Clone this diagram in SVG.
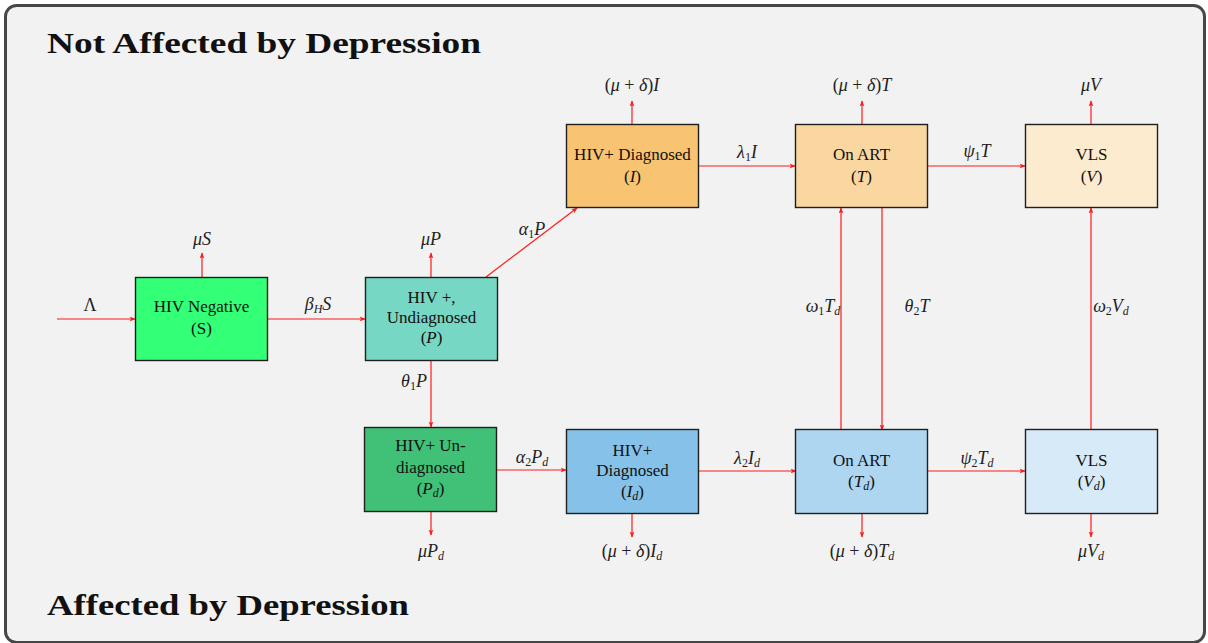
<svg xmlns="http://www.w3.org/2000/svg" width="1208" height="643" viewBox="0 0 1208 643">
  <defs>
    <marker id="head" viewBox="0 0 10 10" refX="9" refY="5" markerWidth="6" markerHeight="6" markerUnits="userSpaceOnUse" orient="auto">
      <path d="M0,1 L10,5 L0,9 L2.5,5 Z" fill="#ff1a1a"/>
    </marker>
    <style>
      .frame { fill: #f2f2f2; stroke: #474747; stroke-width: 3; }
      .box { stroke: #1f1f1f; stroke-width: 1.4; }
      .title { font-family: "Liberation Serif", "DejaVu Serif", serif; font-weight: bold; font-size: 29px; fill: #111; }
      .lbl { font-family: "Liberation Serif", "DejaVu Serif", serif; font-size: 17px; fill: #111; text-anchor: middle; }
      .math { font-family: "Liberation Serif", "DejaVu Serif", serif; font-size: 18px; fill: #222; text-anchor: middle; }
      .i { font-style: italic; }
      .sub { font-size: 12px; }
      .flow { stroke: #ff1a1a; stroke-width: 1.2; fill: none; marker-end: url(#head); }
    </style>
  </defs>

  <rect class="frame" x="5.5" y="5.5" width="1199" height="637" rx="11"/>

  <text class="title" x="47" y="53" textLength="434" lengthAdjust="spacingAndGlyphs">Not Affected by Depression</text>
  <text class="title" x="47" y="615" textLength="362" lengthAdjust="spacingAndGlyphs">Affected by Depression</text>

  <!-- transitions between compartments -->
  <g id="connectors">
    <line class="flow" x1="57" y1="319" x2="135" y2="319"/>
    <line class="flow" x1="268" y1="319" x2="365" y2="319"/>
    <line class="flow" x1="202" y1="277" x2="202" y2="253"/>
    <line class="flow" x1="431" y1="277" x2="431" y2="253"/>
    <line class="flow" x1="486" y1="277" x2="577" y2="208"/>
    <line class="flow" x1="431" y1="361" x2="431" y2="427"/>
    <line class="flow" x1="632" y1="124" x2="632" y2="101"/>
    <line class="flow" x1="698" y1="166" x2="795" y2="166"/>
    <line class="flow" x1="862" y1="124" x2="862" y2="101"/>
    <line class="flow" x1="928" y1="166" x2="1025" y2="166"/>
    <line class="flow" x1="1091" y1="124" x2="1091" y2="101"/>
    <line class="flow" x1="841" y1="430" x2="841" y2="208"/>
    <line class="flow" x1="882" y1="208" x2="882" y2="430"/>
    <line class="flow" x1="1091" y1="430" x2="1091" y2="208"/>
    <line class="flow" x1="497" y1="470" x2="566" y2="470"/>
    <line class="flow" x1="431" y1="511" x2="431" y2="535"/>
    <line class="flow" x1="699" y1="471" x2="796" y2="471"/>
    <line class="flow" x1="632" y1="513" x2="632" y2="537"/>
    <line class="flow" x1="928" y1="471" x2="1025" y2="471"/>
    <line class="flow" x1="862" y1="513" x2="862" y2="537"/>
    <line class="flow" x1="1091" y1="513" x2="1091" y2="537"/>
  </g>

  <!-- rate labels -->
  <g id="rates">
    <text class="math" x="90" y="311">Λ</text>
    <text class="math" x="318" y="310"><tspan class="i">β</tspan><tspan class="i sub" dy="3">H</tspan><tspan class="i" dy="-3">S</tspan></text>
    <text class="math" x="202" y="245"><tspan class="i">μS</tspan></text>
    <text class="math" x="431" y="245"><tspan class="i">μP</tspan></text>
    <text class="math" x="532" y="235"><tspan class="i">α</tspan><tspan class="sub" dy="3">1</tspan><tspan class="i" dy="-3">P</tspan></text>
    <text class="math" x="414" y="387"><tspan class="i">θ</tspan><tspan class="sub" dy="3">1</tspan><tspan class="i" dy="-3">P</tspan></text>
    <text class="math" x="632" y="91">(<tspan class="i">μ</tspan> + <tspan class="i">δ</tspan>)<tspan class="i">I</tspan></text>
    <text class="math" x="747" y="158"><tspan class="i">λ</tspan><tspan class="sub" dy="3">1</tspan><tspan class="i" dy="-3">I</tspan></text>
    <text class="math" x="862" y="91">(<tspan class="i">μ</tspan> + <tspan class="i">δ</tspan>)<tspan class="i">T</tspan></text>
    <text class="math" x="977" y="157"><tspan class="i">ψ</tspan><tspan class="sub" dy="3">1</tspan><tspan class="i" dy="-3">T</tspan></text>
    <text class="math" x="1091" y="91"><tspan class="i">μV</tspan></text>
    <text class="math" x="823" y="312"><tspan class="i">ω</tspan><tspan class="sub" dy="3">1</tspan><tspan class="i" dy="-3">T</tspan><tspan class="i sub" dy="3">d</tspan></text>
    <text class="math" x="917" y="312"><tspan class="i">θ</tspan><tspan class="sub" dy="3">2</tspan><tspan class="i" dy="-3">T</tspan></text>
    <text class="math" x="1111" y="312"><tspan class="i">ω</tspan><tspan class="sub" dy="3">2</tspan><tspan class="i" dy="-3">V</tspan><tspan class="i sub" dy="3">d</tspan></text>
    <text class="math" x="532" y="463"><tspan class="i">α</tspan><tspan class="sub" dy="3">2</tspan><tspan class="i" dy="-3">P</tspan><tspan class="i sub" dy="3">d</tspan></text>
    <text class="math" x="431" y="557"><tspan class="i">μP</tspan><tspan class="i sub" dy="3">d</tspan></text>
    <text class="math" x="747" y="464"><tspan class="i">λ</tspan><tspan class="sub" dy="3">2</tspan><tspan class="i" dy="-3">I</tspan><tspan class="i sub" dy="3">d</tspan></text>
    <text class="math" x="632" y="557">(<tspan class="i">μ</tspan> + <tspan class="i">δ</tspan>)<tspan class="i">I</tspan><tspan class="i sub" dy="3">d</tspan></text>
    <text class="math" x="977" y="464"><tspan class="i">ψ</tspan><tspan class="sub" dy="3">2</tspan><tspan class="i" dy="-3">T</tspan><tspan class="i sub" dy="3">d</tspan></text>
    <text class="math" x="862" y="557">(<tspan class="i">μ</tspan> + <tspan class="i">δ</tspan>)<tspan class="i">T</tspan><tspan class="i sub" dy="3">d</tspan></text>
    <text class="math" x="1091" y="557"><tspan class="i">μV</tspan><tspan class="i sub" dy="3">d</tspan></text>
  </g>

  <!-- compartments -->
  <g id="node-S">
    <rect class="box" x="135.5" y="277.5" width="132" height="83" fill="#33ff77"/>
    <text class="lbl" x="201.5" y="312">HIV Negative</text>
    <text class="lbl" x="201.5" y="334">(S)</text>
  </g>
  <g id="node-P">
    <rect class="box" x="365.5" y="277.5" width="132" height="83" fill="#76d7c4"/>
    <text class="lbl" x="431.5" y="303">HIV +,</text>
    <text class="lbl" x="431.5" y="323">Undiagnosed</text>
    <text class="lbl" x="431.5" y="343">(<tspan class="i">P</tspan>)</text>
  </g>
  <g id="node-I">
    <rect class="box" x="566.5" y="124.5" width="132" height="83" fill="#f8c471"/>
    <text class="lbl" x="632.5" y="160">HIV+ Diagnosed</text>
    <text class="lbl" x="632.5" y="182">(<tspan class="i">I</tspan>)</text>
  </g>
  <g id="node-T">
    <rect class="box" x="795.5" y="124.5" width="132" height="83" fill="#fad7a0"/>
    <text class="lbl" x="861.5" y="160">On ART</text>
    <text class="lbl" x="861.5" y="182">(<tspan class="i">T</tspan>)</text>
  </g>
  <g id="node-V">
    <rect class="box" x="1025.5" y="124.5" width="132" height="83" fill="#fdebd0"/>
    <text class="lbl" x="1091.5" y="160">VLS</text>
    <text class="lbl" x="1091.5" y="182">(<tspan class="i">V</tspan>)</text>
  </g>
  <g id="node-Pd">
    <rect class="box" x="364.5" y="427.5" width="132" height="84" fill="#40c177"/>
    <text class="lbl" x="430.5" y="451">HIV+ Un-</text>
    <text class="lbl" x="430.5" y="473">diagnosed</text>
    <text class="lbl" x="430.5" y="494">(<tspan class="i">P</tspan><tspan class="i sub" dy="3">d</tspan><tspan dy="-3">)</tspan></text>
  </g>
  <g id="node-Id">
    <rect class="box" x="566.5" y="429.5" width="132" height="84" fill="#85c1e9"/>
    <text class="lbl" x="632.5" y="456">HIV+</text>
    <text class="lbl" x="632.5" y="476">Diagnosed</text>
    <text class="lbl" x="632.5" y="497">(<tspan class="i">I</tspan><tspan class="i sub" dy="3">d</tspan><tspan dy="-3">)</tspan></text>
  </g>
  <g id="node-Td">
    <rect class="box" x="795.5" y="429.5" width="132" height="84" fill="#aed6f1"/>
    <text class="lbl" x="861.5" y="466">On ART</text>
    <text class="lbl" x="861.5" y="487">(<tspan class="i">T</tspan><tspan class="i sub" dy="3">d</tspan><tspan dy="-3">)</tspan></text>
  </g>
  <g id="node-Vd">
    <rect class="box" x="1025.5" y="429.5" width="132" height="84" fill="#d6eaf8"/>
    <text class="lbl" x="1091.5" y="466">VLS</text>
    <text class="lbl" x="1091.5" y="487">(<tspan class="i">V</tspan><tspan class="i sub" dy="3">d</tspan><tspan dy="-3">)</tspan></text>
  </g>
</svg>
